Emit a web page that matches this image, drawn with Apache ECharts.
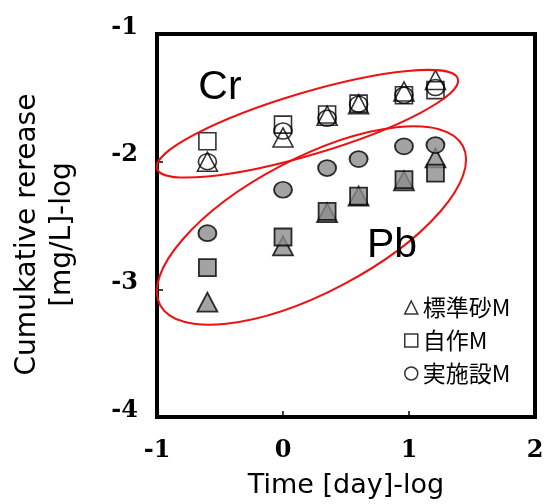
<!DOCTYPE html>
<html><head><meta charset="utf-8">
<script src="https://cdn.jsdelivr.net/npm/echarts@6/dist/echarts.min.js"></script>
<style>html,body{margin:0;padding:0;background:#fff}#c{width:551px;height:504px}</style>
</head><body><div id="c"></div>
<script>
// x: Time [day]-log
const timeLog = [-0.60, 0, 0.35, 0.60, 0.96, 1.21];
// Cr (hollow markers)
const crStandard = [-2.00, -1.81, -1.64, -1.55, -1.45, -1.36];
const crSelfMade = [-1.84, -1.71, -1.63, -1.545, -1.48, -1.44];
const crFacility = [-2.00, -1.76, -1.66, -1.55, -1.48, -1.42];
// Pb (grey filled markers)
const pbStandard = [-3.10, -2.66, -2.40, -2.27, -2.15, -1.97];
const pbSelfMade = [-2.83, -2.59, -2.39, -2.27, -2.14, -2.09];
const pbFacility = [-2.56, -2.22, -2.05, -1.98, -1.88, -1.87];
const seriesNames = ['標準砂M', '自作M', '実施設M'];
const groupLabels = ['Cr', 'Pb'];
const xTitle = 'Time [day]-log';
const yTitle = 'Cumukative rerease\n[mg/L]-log';

const chart = echarts.init(document.getElementById('c'), null, {renderer: 'canvas'});
const pts = arr => timeLog.map((x, i) => [x, arr[i]]);
const hollow = {color: 'rgba(255,255,255,0)', borderColor: '#000', borderWidth: 1.6};
const grey = {color: '#8c8c8c', borderColor: '#000', borderWidth: 1.8};
const sym = {'標準砂M': ['triangle', [20, 19]], '自作M': ['rect', [17, 17]], '実施設M': ['circle', [18, 16]]};
function mk(name, arr, style) {
  return {type: 'scatter', name, data: pts(arr), symbol: sym[name][0], symbolSize: sym[name][1],
    itemStyle: style, emphasis: {disabled: true}, silent: true};
}
const labelFont = {color: '#000', fontFamily: 'DejaVu Serif', fontWeight: 'bold', fontSize: 24};
chart.setOption({
  animation: false,
  backgroundColor: '#fff',
  grid: {left: 157, right: 16, top: 34, bottom: 86, show: true, borderColor: '#000', borderWidth: 4},
  legend: {
    orient: 'vertical', left: 399, top: 291, itemWidth: 13, itemHeight: 13, itemGap: 10,
    data: [{name: seriesNames[0], icon: 'triangle'}, {name: seriesNames[1], icon: 'rect'}, {name: seriesNames[2], icon: 'circle'}],
    itemStyle: {color: 'rgba(255,255,255,0)', borderColor: '#000', borderWidth: 1.5},
    textStyle: {color: '#000', fontFamily: 'Noto Sans CJK JP', fontSize: 23, lineHeight: 22},
    selectedMode: false
  },
  xAxis: {
    type: 'value', min: -1, max: 2, interval: 1,
    axisLine: {show: false, onZero: false}, splitLine: {show: false},
    axisTick: {inside: true, length: 6, lineStyle: {color: '#000', width: 1.5}},
    axisLabel: Object.assign({margin: 22}, labelFont),
    name: xTitle, nameLocation: 'middle', nameGap: 55,
    nameTextStyle: {color: '#000', fontFamily: 'DejaVu Sans', fontSize: 27}
  },
  yAxis: {
    type: 'value', min: -4, max: -1, interval: 1,
    axisLine: {show: false, onZero: false}, splitLine: {show: false},
    axisTick: {inside: true, length: 6, lineStyle: {color: '#000', width: 1.5}},
    axisLabel: Object.assign({margin: 19, verticalAlign: 'bottom', lineHeight: 13}, labelFont),
    name: yTitle, nameLocation: 'middle', nameGap: 77, nameRotate: 90,
    nameTextStyle: {color: '#000', fontFamily: 'DejaVu Sans', fontSize: 28, lineHeight: 35, align: 'center', padding: [0, 18, 0, 0]}
  },
  series: [
    mk(seriesNames[0], crStandard, hollow),
    mk(seriesNames[1], crSelfMade, hollow),
    mk(seriesNames[2], crFacility, hollow),
    mk(seriesNames[0], pbStandard, grey),
    mk(seriesNames[1], pbSelfMade, grey),
    mk(seriesNames[2], pbFacility, grey)
  ]
});

// annotation ellipses and group labels, anchored in data coordinates
const ellipses = [
  {center: [0.194, -1.703], rx: 157, ry: 31, angle: 16.6},
  {center: [0.226, -2.50], rx: 171, ry: 67, angle: 27.7}
];
const labelPos = [[-0.50, -1.42], [0.865, -2.66]];
const g = [];
ellipses.forEach(e => {
  const p = chart.convertToPixel({gridIndex: 0}, e.center);
  g.push({type: 'ellipse', x: p[0], y: p[1], rotation: e.angle * Math.PI / 180,
    shape: {cx: 0, cy: 0, rx: e.rx, ry: e.ry},
    style: {fill: 'none', stroke: '#ee1111', lineWidth: 2}, z: 10, silent: true});
});
groupLabels.forEach((t, i) => {
  const p = chart.convertToPixel({gridIndex: 0}, labelPos[i]);
  g.push({type: 'text', x: p[0], y: p[1], z: 11, silent: true,
    style: {text: t, fill: '#000', font: '41px "Liberation Sans"', align: 'center', verticalAlign: 'middle'}});
});
chart.setOption({graphic: g});
</script></body></html>
